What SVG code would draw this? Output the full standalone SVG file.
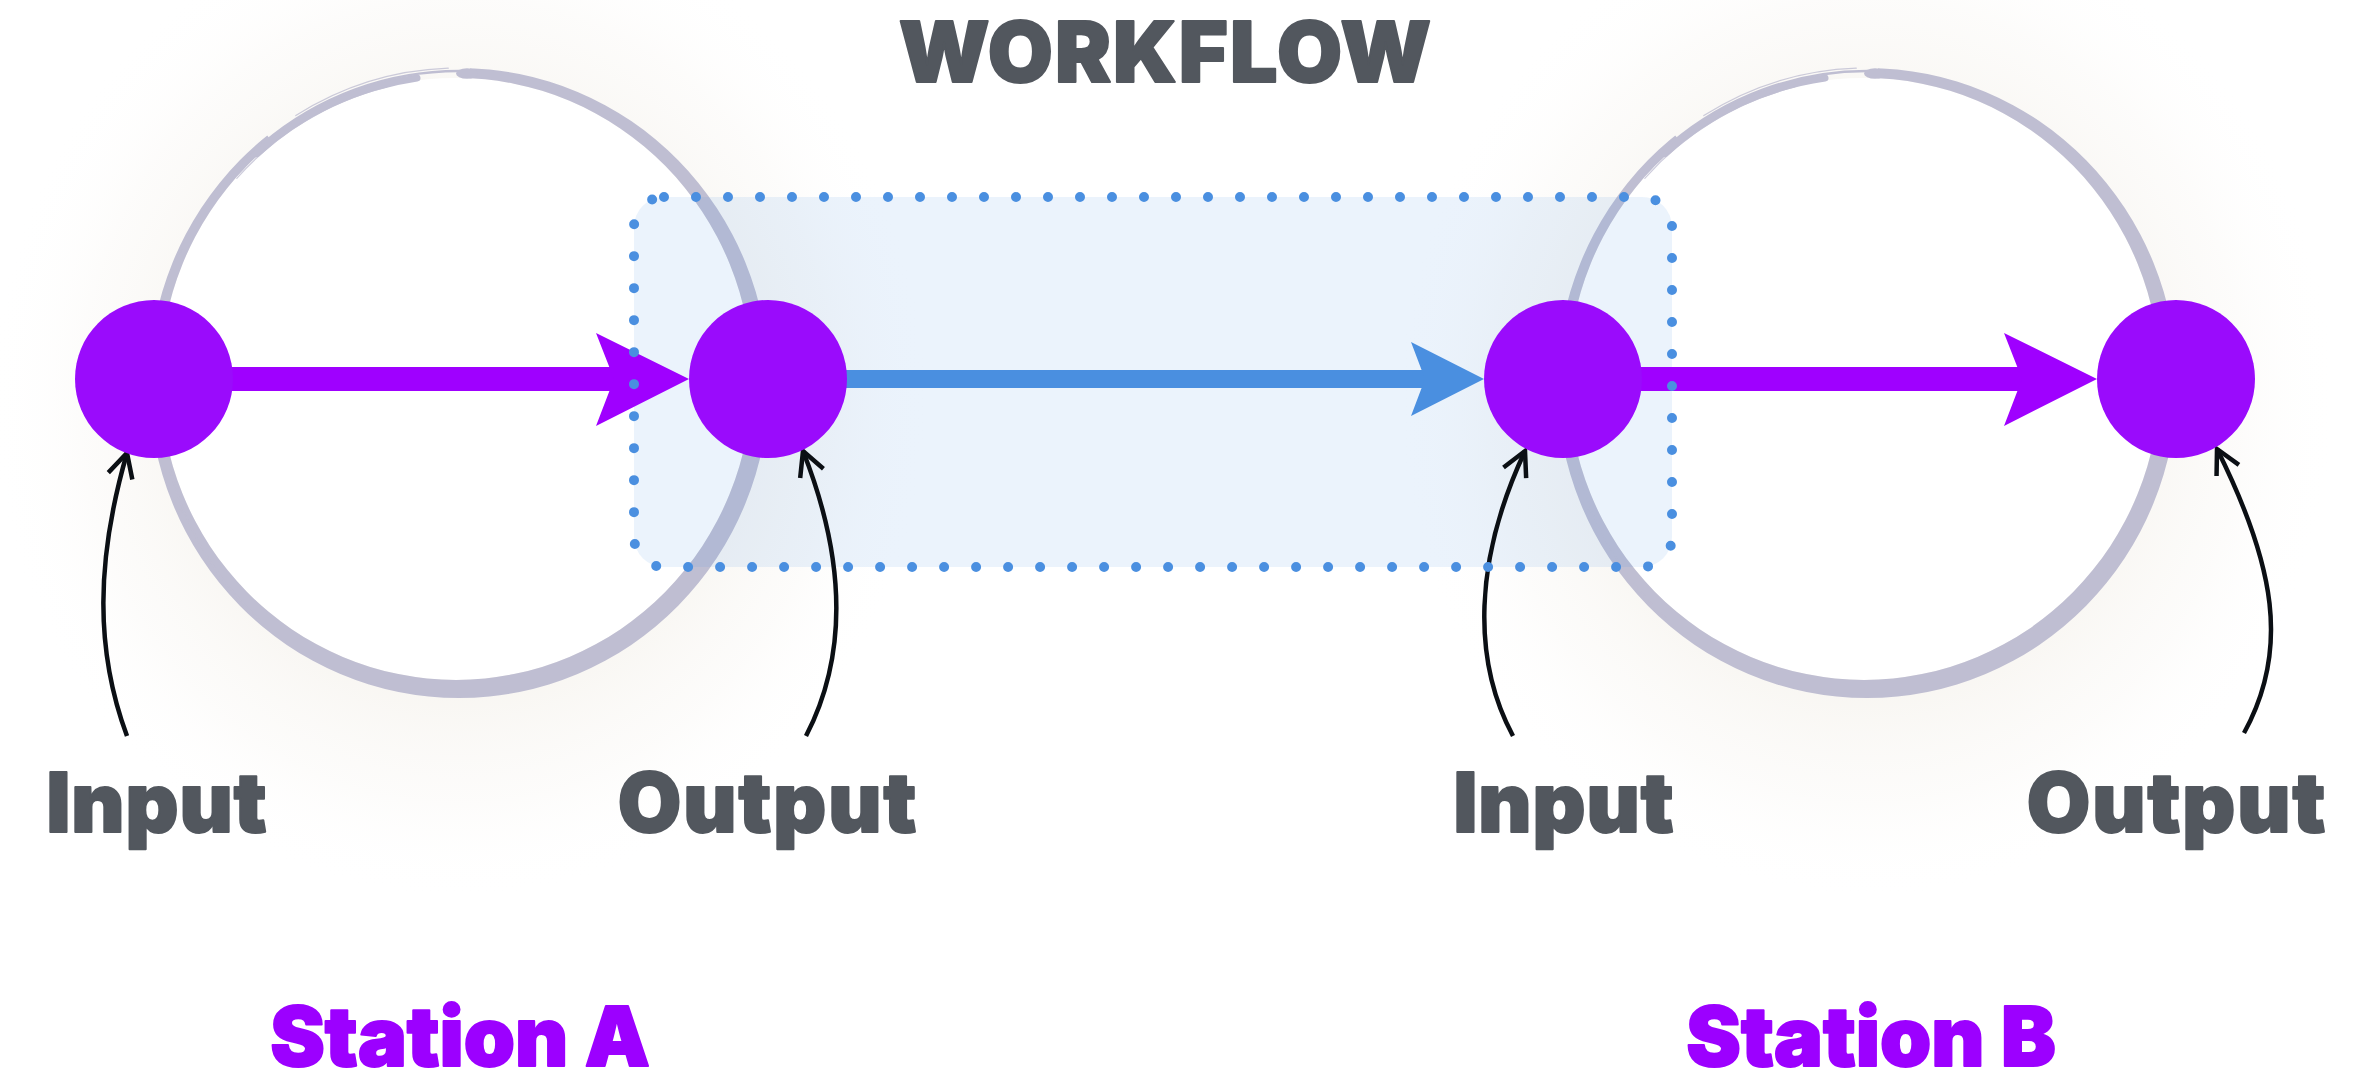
<svg xmlns="http://www.w3.org/2000/svg" xmlns:xlink="http://www.w3.org/1999/xlink" width="2372" height="1085" viewBox="0 0 2372 1085">
  <style>
    .label { font-family: Inter, "Open Sans", "Liberation Sans", sans-serif; font-weight: 900; font-size: 82px; fill: #52575e; stroke: #52575e; stroke-width: 2; stroke-linejoin: round; text-anchor: middle; }
    .station { fill: #9c00ff; stroke: #9c00ff; }
    .title { font-size: 84px; letter-spacing: 2px; }
    .node { fill: #9a0bfc; }
    .brush { fill: #bfbed2; }
    .wisp { fill: none; stroke: #bfbed2; stroke-linecap: round; }
    .pointer { fill: none; stroke: #0b0f14; stroke-width: 4.5; }
    .flow-purple { stroke: #9f00ff; stroke-width: 24; }
    .flow-blue { stroke: #4a8fe0; stroke-width: 18; }
  </style>
  <defs>
    <radialGradient id="haze" cx="0.5" cy="0.5" r="0.5">
      <stop offset="0.55" stop-color="#f5f2ec" stop-opacity="0.75"/>
      <stop offset="0.8" stop-color="#f9f7f4" stop-opacity="0.4"/>
      <stop offset="1" stop-color="#ffffff" stop-opacity="0"/>
    </radialGradient>
    <!-- leaves the top-left of the brush ring open for the dry-brush wisps -->
    <mask id="brushCut" maskUnits="userSpaceOnUse" x="0" y="-400" width="1000" height="1200">
      <rect x="0" y="-400" width="1000" height="1200" fill="#ffffff"/>
      <polygon points="459,381 28,-171 219.6,-277 483.4,-318.6" fill="#000000"/>
    </mask>
    <marker id="chevron" markerUnits="userSpaceOnUse" markerWidth="40" markerHeight="40" viewBox="-30 -20 40 40" refX="0" refY="0" orient="auto">
      <path d="M-24,-12.5 L0,0 L-24,12.5" fill="none" stroke="#0b0f14" stroke-width="4.5"/>
    </marker>
    <!-- brush-stroke ring of a station, centred on (459,381) -->
    <g id="ring">
      <ellipse cx="459" cy="400" rx="470" ry="500" fill="url(#haze)"/>
      <ellipse cx="456.13" cy="378.9" rx="296" ry="301" fill="#ffffff"/>
      <path class="brush" fill-rule="evenodd" mask="url(#brushCut)" d="M149,383 a310,315 0 1 0 620,0 a310,315 0 1 0 -620,0 Z M160.13,378.9 a296,301 0 1 0 592,0 a296,301 0 1 0 -592,0 Z"/>
      <ellipse class="brush" cx="467" cy="73.5" rx="11" ry="5.2"/>
      <path class="wisp" stroke-width="7" d="M256.9,153.6 A302,306 0 0 1 417.0,78.0"/>
      <path class="wisp" stroke-width="2.5" d="M262.9,143.5 A305,310 0 0 1 459,71"/>
      <path class="wisp" stroke-width="1.2" opacity="0.8" d="M295.8,115.6 A308,313 0 0 1 448.3,68.2"/>
      <path class="wisp" stroke-width="1.2" opacity="0.8" d="M236.8,178.3 A299,303 0 0 1 386.7,87"/>
      <path class="wisp" stroke-width="1" opacity="0.5" d="M194,536.5 A306,311 0 0 1 262.3,142.8"/>
      <path class="wisp" stroke-width="1.2" opacity="0.6" d="M170,470 A300,307 0 0 0 260,620"/>
    </g>
  </defs>

  <rect width="2372" height="1085" fill="#ffffff"/>

  <!-- stations -->
  <g id="station-a">
    <use xlink:href="#ring"/>
  </g>
  <g id="station-b">
    <use xlink:href="#ring" x="1408"/>
  </g>

  <!-- workflow band between the stations -->
  <g id="workflow">
    <rect x="634" y="197" width="1038" height="370" rx="30" fill="#4a90e2" fill-opacity="0.11"/>
  </g>

  <!-- connectors -->
  <g id="connectors">
    <line class="flow-purple" x1="154" y1="379" x2="616" y2="379"/>
    <polygon fill="#9f00ff" points="689,379 596,333 614,379 596,426"/>
    <line class="flow-blue" x1="768" y1="379" x2="1427" y2="379"/>
    <polygon fill="#4a8fe0" points="1484,379 1411,342 1425,379 1411,416"/>
    <line class="flow-purple" x1="1563" y1="379" x2="2024" y2="379"/>
    <polygon fill="#9f00ff" points="2097,379 2004,333 2022,379 2004,426"/>

    <path class="pointer" marker-end="url(#chevron)" d="M127,736 C95,650 96,560 127,453"/>
    <path class="pointer" marker-end="url(#chevron)" d="M806,736 C848,655 846,560 803,451"/>
    <path class="pointer" marker-end="url(#chevron)" d="M1513,736 C1472,660 1474,560 1525,451"/>
    <path class="pointer" marker-end="url(#chevron)" d="M2244,733 C2290,650 2275,565 2217,449"/>
  </g>

  <!-- ports -->
  <g id="input-a"><circle class="node" cx="154" cy="379" r="79"/></g>
  <g id="output-a"><circle class="node" cx="768" cy="379" r="79"/></g>
  <g id="input-b"><circle class="node" cx="1563" cy="379" r="79"/></g>
  <g id="output-b"><circle class="node" cx="2176" cy="379" r="79"/></g>

  <!-- dotted outline of the workflow band -->
  <g id="workflow-outline">
    <rect x="634" y="197" width="1038" height="370" rx="30" fill="none" stroke="#4a8fe0" stroke-width="10" stroke-linecap="round" stroke-dasharray="0 32"/>
  </g>

  <!-- labels -->
  <g id="labels">
    <text class="label title" x="1166" y="82">WORKFLOW</text>
    <text class="label" x="157" y="832" letter-spacing="1">Input</text>
    <text class="label" x="768" y="832" letter-spacing="2">Output</text>
    <text class="label" x="1564" y="832" letter-spacing="1">Input</text>
    <text class="label" x="2177" y="832" letter-spacing="2">Output</text>
    <text class="label station" x="460" y="1066">Station A</text>
    <text class="label station" x="1871" y="1066">Station B</text>
  </g>
</svg>
